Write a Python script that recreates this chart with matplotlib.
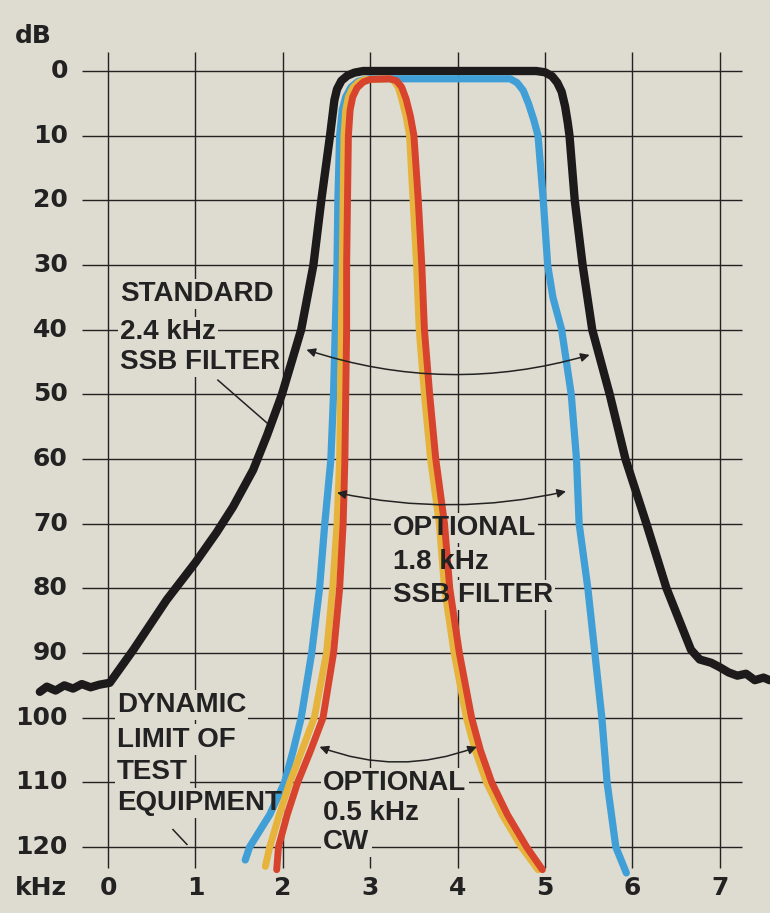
import matplotlib
matplotlib.use("Agg")
import matplotlib.pyplot as plt

# --- data (kHz, dB attenuation) ---
std_khz = [-0.78, -0.7, -0.6, -0.5, -0.4, -0.3, -0.2, -0.1, 0.02, 0.29, 0.67, 1.0, 1.24,
           1.43, 1.66, 1.82, 1.99, 2.21, 2.35, 2.44, 2.54, 2.59, 2.62, 2.67, 2.74, 2.82, 2.92,
           4.9, 5.0, 5.08, 5.14, 5.19, 5.23, 5.26, 5.28, 5.34, 5.43, 5.54, 5.74, 5.92, 6.16,
           6.39, 6.67, 6.77, 6.9, 7.0, 7.1, 7.2, 7.3, 7.4, 7.5, 7.57]
std_db = [96, 95.2, 95.8, 95.0, 95.5, 94.8, 95.3, 94.9, 94.6, 89.5, 81.8, 76, 71.4,
          67.4, 61.7, 56.3, 50, 40, 30, 20, 10, 4.5, 2.8, 1.5, 0.7, 0.25, 0,
          0, 0.2, 0.8, 1.8, 3.2, 5.5, 8, 10, 20, 30, 40, 50, 60, 70,
          80, 89.5, 91, 91.5, 92.2, 93.0, 93.5, 93.2, 94.2, 93.8, 94.2]

ssb18_khz = [1.57, 1.62, 1.85, 2.02, 2.12, 2.21, 2.33, 2.42, 2.48, 2.55, 2.58, 2.6, 2.62,
             2.63, 2.65, 2.68, 2.72, 2.78, 2.86, 2.98, 4.6, 4.68, 4.75, 4.81, 4.87, 4.92,
             4.98, 5.03, 5.09, 5.19, 5.3, 5.36, 5.39, 5.49, 5.57, 5.65, 5.71, 5.81, 5.93]
ssb18_db = [122, 120, 115, 110, 105, 100, 90, 80, 70, 60, 50, 40, 30,
            20, 10, 6, 4, 2.5, 1.6, 1.2, 1.2, 1.8, 3, 5, 7.5, 10,
            20, 30, 35, 40, 50, 60, 70, 80, 90, 100, 110, 120, 124]

cw_y_khz = [1.8, 1.85, 1.96, 2.08, 2.22, 2.36, 2.5, 2.57, 2.62, 2.65, 2.66, 2.67, 2.68,
            2.69, 2.7, 2.72, 2.75, 2.8, 2.87, 2.95, 3.22, 3.27, 3.32, 3.36, 3.41, 3.45,
            3.49, 3.53, 3.56, 3.62, 3.69, 3.79, 3.85, 3.96, 4.1, 4.2, 4.33, 4.51, 4.73, 4.92]
cw_y_db = [123, 120, 115, 110, 105, 100, 90, 80, 70, 60, 50, 40, 30,
           20, 10, 6, 4, 2.6, 1.7, 1.3, 1.2, 1.5, 2.5, 4.3, 7, 10,
           20, 30, 40, 50, 60, 70, 80, 90, 100, 105, 110, 115, 120, 123.5]

cw_r_khz = [1.93, 1.95, 2.05, 2.17, 2.32, 2.46, 2.58, 2.65, 2.69, 2.71, 2.72, 2.73, 2.73,
            2.74, 2.75, 2.77, 2.8, 2.85, 2.92, 3.0, 3.22, 3.3, 3.36, 3.41, 3.46, 3.5,
            3.55, 3.59, 3.62, 3.68, 3.75, 3.85, 3.91, 4.02, 4.16, 4.26, 4.39, 4.57, 4.79, 4.97]
cw_r_db = [123.5, 120, 115, 110, 105, 100, 90, 80, 70, 60, 50, 40, 30,
           20, 10, 6, 4, 2.6, 1.7, 1.3, 1.2, 1.5, 2.5, 4.3, 7, 10,
           20, 30, 40, 50, 60, 70, 80, 90, 100, 105, 110, 115, 120, 123.5]

khz_ticks = [0, 1, 2, 3, 4, 5, 6, 7]
db_ticks = [0, 10, 20, 30, 40, 50, 60, 70, 80, 90, 100, 110, 120]

paper = '#dedbd0'
ink = '#222222'
label_font = ['Liberation Sans', 'DejaVu Sans']

fig = plt.figure(figsize=(7.7, 9.13), dpi=100, facecolor=paper)
ax = fig.add_axes([0, 0, 1, 1])
ax.set_xlim(-1.236, 7.574)
ax.set_ylim(130.2, -10.98)
ax.axis('off')

# grid
ax.hlines(db_ticks, -0.3, 7.25, color=ink, lw=1.0, zorder=1)
ax.vlines(khz_ticks, -2.9, 123.3, color=ink, lw=1.0, zorder=1)

# tick labels
for d in db_ticks:
    ax.text(-0.46, d, str(d), ha='right', va='center', fontsize=18,
            fontweight='bold', color=ink)
for k in khz_ticks:
    ax.text(k, 126.4, str(k), ha='center', va='center', fontsize=18,
            fontweight='bold', color=ink)
ax.text(-1.07, -5.4, 'dB', ha='left', va='center', fontsize=18, fontweight='bold', color=ink)
ax.text(-1.07, 126.4, 'kHz', ha='left', va='center', fontsize=18, fontweight='bold', color=ink)

# curves
ax.plot(std_khz, std_db, color='#1c1a1a', lw=6, solid_joinstyle='round',
        solid_capstyle='round', zorder=3)
ax.plot(ssb18_khz, ssb18_db, color='#3f9fd6', lw=5.2, solid_joinstyle='round',
        solid_capstyle='round', zorder=3)
ax.plot(cw_y_khz, cw_y_db, color='#e6b43c', lw=5.0, solid_joinstyle='round',
        solid_capstyle='round', zorder=3)
ax.plot(cw_r_khz, cw_r_db, color='#d8432e', lw=5.0, solid_joinstyle='round',
        solid_capstyle='round', zorder=3)


def label(x, ys, lines):
    for y, s in zip(ys, lines):
        ax.text(x, y, s, ha='left', va='center', fontsize=20, fontweight='bold',
                family=label_font, color='none', zorder=2,
                bbox=dict(boxstyle='square,pad=0.08', fc=paper, ec='none'))
        ax.text(x, y, s, ha='left', va='center', fontsize=20, fontweight='bold',
                family=label_font, color=ink, zorder=5)


label(0.137, [34.5, 40.4, 45.0], ['STANDARD', '2.4 kHz', 'SSB FILTER'])
label(3.26, [70.7, 75.9, 81.0], ['OPTIONAL', '1.8 kHz', 'SSB FILTER'])
label(0.10, [98.0, 103.4, 108.4, 113.2], ['DYNAMIC', 'LIMIT OF', 'TEST', 'EQUIPMENT'])
label(2.46, [110.1, 114.7, 119.2], ['OPTIONAL', '0.5 kHz', 'CW'])

# arrows
arr = dict(arrowstyle='<|-|>', color=ink, lw=1.1, mutation_scale=13, shrinkA=0, shrinkB=0)
ax.annotate('', xy=(5.51, 43.9), xytext=(2.27, 43.1),
            arrowprops=dict(connectionstyle='arc3,rad=0.155', **arr), zorder=4)
ax.annotate('', xy=(5.24, 65.0), xytext=(2.62, 65.2),
            arrowprops=dict(connectionstyle='arc3,rad=0.11', **arr), zorder=4)
ax.annotate('', xy=(4.22, 104.5), xytext=(2.42, 104.5),
            arrowprops=dict(connectionstyle='arc3,rad=0.19', **arr), zorder=4)

# pointer lines
ax.plot([1.257, 1.817], [47.8, 54.4], color=ink, lw=1.1, zorder=4)
ax.plot([0.743, 0.903], [117.3, 119.6], color=ink, lw=1.1, zorder=4)

fig.savefig('out.png', dpi=100, facecolor=paper)
